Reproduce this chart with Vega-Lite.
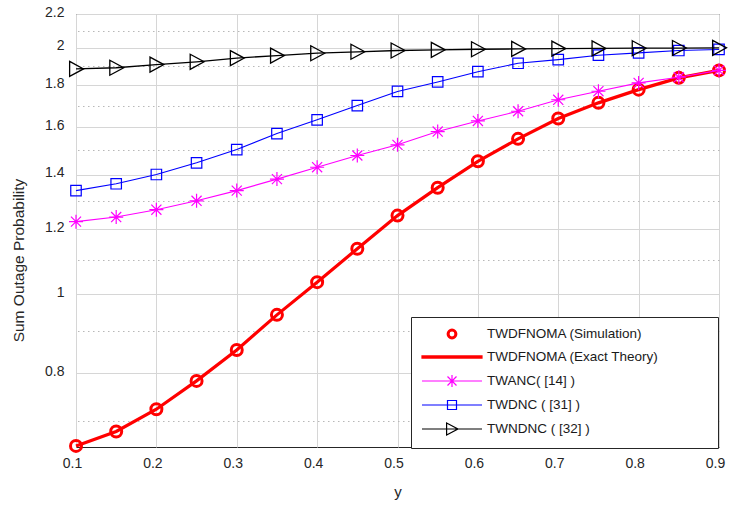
{
  "$schema": "https://vega.github.io/schema/vega-lite/v6.json",
  "width": 643,
  "height": 433,
  "autosize": {"type": "none"},
  "padding": {"left": 76, "top": 14, "right": 20, "bottom": 61},
  "background": "white",
  "config": {
    "font": "Liberation Sans",
    "view": {"stroke": "#262626", "strokeWidth": 1},
    "axis": {"labelFont": "Liberation Sans", "titleFont": "Liberation Sans", "labelColor": "#262626", "titleColor": "#262626", "titleFontWeight": "normal"}
  },
  "data": {
    "values": [
      {"x": 0.1, "y": 0.652, "s": "TWDFNOMA (Exact Theory)"},
      {"x": 0.15, "y": 0.679, "s": "TWDFNOMA (Exact Theory)"},
      {"x": 0.2, "y": 0.723, "s": "TWDFNOMA (Exact Theory)"},
      {"x": 0.25, "y": 0.783, "s": "TWDFNOMA (Exact Theory)"},
      {"x": 0.3, "y": 0.854, "s": "TWDFNOMA (Exact Theory)"},
      {"x": 0.35, "y": 0.943, "s": "TWDFNOMA (Exact Theory)"},
      {"x": 0.4, "y": 1.034, "s": "TWDFNOMA (Exact Theory)"},
      {"x": 0.45, "y": 1.136, "s": "TWDFNOMA (Exact Theory)"},
      {"x": 0.5, "y": 1.247, "s": "TWDFNOMA (Exact Theory)"},
      {"x": 0.55, "y": 1.349, "s": "TWDFNOMA (Exact Theory)"},
      {"x": 0.6, "y": 1.453, "s": "TWDFNOMA (Exact Theory)"},
      {"x": 0.65, "y": 1.548, "s": "TWDFNOMA (Exact Theory)"},
      {"x": 0.7, "y": 1.639, "s": "TWDFNOMA (Exact Theory)"},
      {"x": 0.75, "y": 1.713, "s": "TWDFNOMA (Exact Theory)"},
      {"x": 0.8, "y": 1.778, "s": "TWDFNOMA (Exact Theory)"},
      {"x": 0.85, "y": 1.838, "s": "TWDFNOMA (Exact Theory)"},
      {"x": 0.9, "y": 1.877, "s": "TWDFNOMA (Exact Theory)"},
      {"x": 0.1, "y": 1.226, "s": "TWANC( [14] )"},
      {"x": 0.15, "y": 1.242, "s": "TWANC( [14] )"},
      {"x": 0.2, "y": 1.268, "s": "TWANC( [14] )"},
      {"x": 0.25, "y": 1.3, "s": "TWANC( [14] )"},
      {"x": 0.3, "y": 1.338, "s": "TWANC( [14] )"},
      {"x": 0.35, "y": 1.382, "s": "TWANC( [14] )"},
      {"x": 0.4, "y": 1.429, "s": "TWANC( [14] )"},
      {"x": 0.45, "y": 1.477, "s": "TWANC( [14] )"},
      {"x": 0.5, "y": 1.522, "s": "TWANC( [14] )"},
      {"x": 0.55, "y": 1.58, "s": "TWANC( [14] )"},
      {"x": 0.6, "y": 1.628, "s": "TWANC( [14] )"},
      {"x": 0.65, "y": 1.673, "s": "TWANC( [14] )"},
      {"x": 0.7, "y": 1.728, "s": "TWANC( [14] )"},
      {"x": 0.75, "y": 1.77, "s": "TWANC( [14] )"},
      {"x": 0.8, "y": 1.812, "s": "TWANC( [14] )"},
      {"x": 0.85, "y": 1.841, "s": "TWANC( [14] )"},
      {"x": 0.9, "y": 1.877, "s": "TWANC( [14] )"},
      {"x": 0.1, "y": 1.338, "s": "TWDNC ( [31] )"},
      {"x": 0.15, "y": 1.364, "s": "TWDNC ( [31] )"},
      {"x": 0.2, "y": 1.4, "s": "TWDNC ( [31] )"},
      {"x": 0.25, "y": 1.447, "s": "TWDNC ( [31] )"},
      {"x": 0.3, "y": 1.502, "s": "TWDNC ( [31] )"},
      {"x": 0.35, "y": 1.571, "s": "TWDNC ( [31] )"},
      {"x": 0.4, "y": 1.633, "s": "TWDNC ( [31] )"},
      {"x": 0.45, "y": 1.7, "s": "TWDNC ( [31] )"},
      {"x": 0.5, "y": 1.769, "s": "TWDNC ( [31] )"},
      {"x": 0.55, "y": 1.817, "s": "TWDNC ( [31] )"},
      {"x": 0.6, "y": 1.87, "s": "TWDNC ( [31] )"},
      {"x": 0.65, "y": 1.915, "s": "TWDNC ( [31] )"},
      {"x": 0.7, "y": 1.935, "s": "TWDNC ( [31] )"},
      {"x": 0.75, "y": 1.959, "s": "TWDNC ( [31] )"},
      {"x": 0.8, "y": 1.972, "s": "TWDNC ( [31] )"},
      {"x": 0.85, "y": 1.985, "s": "TWDNC ( [31] )"},
      {"x": 0.9, "y": 1.991, "s": "TWDNC ( [31] )"},
      {"x": 0.1, "y": 1.885, "s": "TWNDNC ( [32] )"},
      {"x": 0.15, "y": 1.891, "s": "TWNDNC ( [32] )"},
      {"x": 0.2, "y": 1.908, "s": "TWNDNC ( [32] )"},
      {"x": 0.25, "y": 1.923, "s": "TWNDNC ( [32] )"},
      {"x": 0.3, "y": 1.943, "s": "TWNDNC ( [32] )"},
      {"x": 0.35, "y": 1.957, "s": "TWNDNC ( [32] )"},
      {"x": 0.4, "y": 1.97, "s": "TWNDNC ( [32] )"},
      {"x": 0.45, "y": 1.978, "s": "TWNDNC ( [32] )"},
      {"x": 0.5, "y": 1.985, "s": "TWNDNC ( [32] )"},
      {"x": 0.55, "y": 1.989, "s": "TWNDNC ( [32] )"},
      {"x": 0.6, "y": 1.992, "s": "TWNDNC ( [32] )"},
      {"x": 0.65, "y": 1.994, "s": "TWNDNC ( [32] )"},
      {"x": 0.7, "y": 1.996, "s": "TWNDNC ( [32] )"},
      {"x": 0.75, "y": 1.997, "s": "TWNDNC ( [32] )"},
      {"x": 0.8, "y": 1.998, "s": "TWNDNC ( [32] )"},
      {"x": 0.85, "y": 1.999, "s": "TWNDNC ( [32] )"},
      {"x": 0.9, "y": 2.0, "s": "TWNDNC ( [32] )"}
    ]
  },
  "resolve": {"axis": {"y": "independent"}},
  "layer": [
    {
      "transform": [{"filter": "datum.s === 'TWDFNOMA (Exact Theory)'"}],
      "mark": {"type": "point", "shape": "circle", "filled": false, "size": 121, "strokeWidth": 3, "color": "#ff0000", "opacity": 1},
      "encoding": {
        "x": {"field": "x", "type": "quantitative", "scale": {"domain": [0.1, 0.9], "nice": false, "zero": false},
          "axis": {"values": [0.1, 0.2, 0.3, 0.4, 0.5, 0.6, 0.7, 0.8, 0.9], "format": ".1f", "title": "y", "grid": true, "gridColor": "#d6d6d6", "gridWidth": 1, "ticks": false, "tickSize": 0, "domain": false, "labelFlush": false, "labelFontSize": 14, "labelPadding": 9, "labelOffset": -4, "titleFontSize": 15, "titleY": 49, "titleBaseline": "alphabetic", "zindex": 0}},
        "y": {"field": "y", "type": "quantitative", "scale": {"type": "log", "domain": [0.65, 2.2], "nice": false},
          "axis": {"orient": "left", "values": [0.8, 1, 1.2, 1.4, 1.6, 1.8, 2, 2.2], "format": "~g", "title": "Sum Outage Probability", "grid": true, "gridColor": "#d6d6d6", "gridWidth": 1, "ticks": false, "tickSize": 0, "domain": false, "labelFlush": false, "labelFontSize": 14, "labelPadding": 12, "labelOffset": -2, "titleFontSize": 15.5, "titleAngle": -90, "titleX": -58, "titleY": 246, "titleAlign": "center", "titleBaseline": "middle", "zindex": 0}}
      }
    },
    {
      "transform": [{"filter": "datum.s === 'TWDFNOMA (Exact Theory)'"}],
      "mark": {"type": "line", "color": "#ff0000", "strokeWidth": 3.2},
      "encoding": {
        "x": {"field": "x", "type": "quantitative"},
        "y": {"field": "y", "type": "quantitative", "axis": null}
      }
    },
    {
      "transform": [{"filter": "datum.s === 'TWANC( [14] )'"}],
      "mark": {"type": "line", "color": "#ff00ff", "strokeWidth": 1.1},
      "encoding": {
        "x": {"field": "x", "type": "quantitative"},
        "y": {"field": "y", "type": "quantitative", "axis": null}
      }
    },
    {
      "transform": [{"filter": "datum.s === 'TWANC( [14] )'"}],
      "mark": {"type": "point", "shape": "M-1,0H1M0,-1V1M-0.72,-0.72L0.72,0.72M-0.72,0.72L0.72,-0.72", "filled": false, "size": 196, "strokeWidth": 1.2, "color": "#ff00ff", "opacity": 1},
      "encoding": {
        "x": {"field": "x", "type": "quantitative"},
        "y": {"field": "y", "type": "quantitative", "axis": null}
      }
    },
    {
      "transform": [{"filter": "datum.s === 'TWDNC ( [31] )'"}],
      "mark": {"type": "line", "color": "#0000ff", "strokeWidth": 1.1},
      "encoding": {
        "x": {"field": "x", "type": "quantitative"},
        "y": {"field": "y", "type": "quantitative", "axis": null}
      }
    },
    {
      "transform": [{"filter": "datum.s === 'TWDNC ( [31] )'"}],
      "mark": {"type": "point", "shape": "square", "filled": false, "size": 110, "strokeWidth": 1.2, "color": "#0000ff", "opacity": 1},
      "encoding": {
        "x": {"field": "x", "type": "quantitative"},
        "y": {"field": "y", "type": "quantitative", "axis": null}
      }
    },
    {
      "transform": [{"filter": "datum.s === 'TWNDNC ( [32] )'"}],
      "mark": {"type": "line", "color": "#000000", "strokeWidth": 1.3},
      "encoding": {
        "x": {"field": "x", "type": "quantitative"},
        "y": {"field": "y", "type": "quantitative", "axis": null}
      }
    },
    {
      "transform": [{"filter": "datum.s === 'TWNDNC ( [32] )'"}],
      "mark": {"type": "point", "shape": "M-0.85,-1L1,0L-0.85,1Z", "filled": false, "size": 225, "strokeWidth": 1.3, "color": "#000000", "opacity": 1},
      "encoding": {
        "x": {"field": "x", "type": "quantitative"},
        "y": {"field": "y", "type": "quantitative", "axis": null}
      }
    },
    {
      "transform": [{"filter": "false"}],
      "mark": {"type": "point", "filled": false, "size": 144, "opacity": 1},
      "encoding": {
        "x": {"field": "x", "type": "quantitative"},
        "y": {"field": "y", "type": "quantitative",
          "axis": {"orient": "right", "values": [0.7, 0.9, 1.1, 1.3, 1.5, 1.7, 1.9, 2.1], "labels": false, "ticks": false, "domain": false, "title": null, "grid": true, "gridColor": "#b8b8b8", "gridDash": [1.5, 3.5], "gridWidth": 1.2, "zindex": 0}},
        "color": {"field": "s", "type": "nominal",
          "scale": {"domain": ["TWDFNOMA (Simulation)", "TWDFNOMA (Exact Theory)", "TWANC( [14] )", "TWDNC ( [31] )", "TWNDNC ( [32] )"], "range": ["#ff0000", "#ff0000", "#ff00ff", "#0000ff", "#000000"]},
          "legend": {"title": "\u00a0", "titleOrient": "right", "titlePadding": 49, "titleFontSize": 13, "orient": "none", "legendX": 335, "legendY": 303, "direction": "vertical", "strokeColor": "#262626", "fillColor": "white", "padding": 10, "labelFont": "Liberation Sans", "labelFontSize": 13.5, "labelColor": "#1a1a1a", "labelLimit": 600, "rowPadding": 8, "symbolSize": 144, "symbolStrokeWidth": 1.2, "labelOffset": 28, "symbolOffset": 24}},
        "shape": {"field": "s", "type": "nominal",
          "scale": {"domain": ["TWDFNOMA (Simulation)", "TWDFNOMA (Exact Theory)", "TWANC( [14] )", "TWDNC ( [31] )", "TWNDNC ( [32] )"],
            "range": ["M0.5,0A0.5,0.5,0,1,1,-0.5,0A0.5,0.5,0,1,1,0.5,0ZM0.65,0A0.65,0.65,0,1,1,-0.65,0A0.65,0.65,0,1,1,0.65,0ZM0.8,0A0.8,0.8,0,1,1,-0.8,0A0.8,0.8,0,1,1,0.8,0Z", "M-5,-0.2H5V0.2H-5ZM-5,0H5", "M-5,0H5M0,-1V1M-0.75,-0.75L0.75,0.75M-0.75,0.75L0.75,-0.75", "M-5,0H5M-0.75,-0.75H0.75V0.75H-0.75Z", "M-5,0H5M-0.9,-1L1,0L-0.9,1Z"]},
          "legend": {"title": "\u00a0", "titleOrient": "right", "titlePadding": 49, "titleFontSize": 13, "orient": "none", "legendX": 335, "legendY": 303, "direction": "vertical", "strokeColor": "#262626", "fillColor": "white", "padding": 10, "labelFont": "Liberation Sans", "labelFontSize": 13.5, "labelColor": "#1a1a1a", "labelLimit": 600, "rowPadding": 8, "symbolSize": 144, "symbolStrokeWidth": 1.2, "labelOffset": 28, "symbolOffset": 24}}
      }
    }
  ]
}
